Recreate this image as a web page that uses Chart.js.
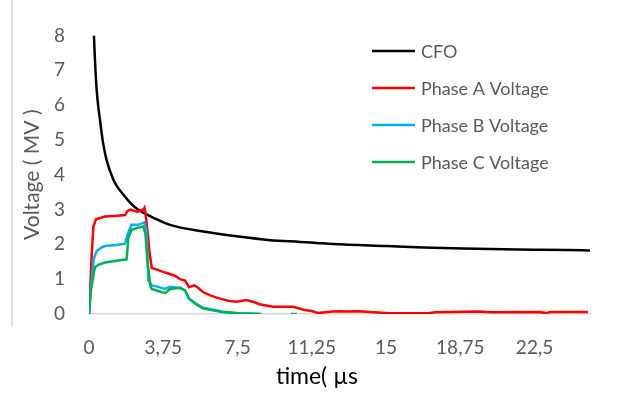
<!DOCTYPE html>
<html>
<head>
<meta charset="utf-8">
<script src="https://cdn.jsdelivr.net/npm/chart.js@4/dist/chart.umd.min.js"></script>
<style>
  html, body { margin: 0; padding: 0; background: #ffffff; }
  #wrap { width: 623px; height: 407px; position: relative; }
</style>
</head>
<body>
<div id="wrap"><canvas id="chart"></canvas></div>
<script>
// Axis ticks
const timeTicks = [0, 3.75, 7.5, 11.25, 15, 18.75, 22.5];
const voltTicks = [0, 1, 2, 3, 4, 5, 6, 7, 8];

// Critical flashover voltage curve (time in µs, voltage in MV)
const cfoTime = [0.25, 0.30, 0.35, 0.40, 0.45, 0.56, 0.70, 0.89, 1.20, 1.40, 1.80, 2.07, 2.42, 2.83, 3.23, 4.09, 5.77, 7.46, 9.14, 10.66, 11.5, 12.34, 15.03, 16.88, 18.9, 21.6, 24.96, 25.3];
const cfoVolt = [8.0, 7.3, 6.75, 6.35, 6.05, 5.55, 4.95, 4.42, 3.9, 3.68, 3.38, 3.2, 3.02, 2.88, 2.77, 2.56, 2.37, 2.23, 2.12, 2.07, 2.04, 2.01, 1.95, 1.91, 1.88, 1.85, 1.83, 1.82];

// Phase A
const phaseATime = [0.0, 0.12, 0.22, 0.35, 0.8, 1.4, 1.82, 1.95, 2.1, 2.3, 2.45, 2.6, 2.75, 2.8, 2.85, 2.95, 3.05, 3.17, 3.4, 3.84, 4.34, 4.6, 4.85, 5.05, 5.3, 5.45, 5.75, 6.1, 6.45, 7.1, 7.45, 7.95, 8.4, 8.6, 9.3, 10.3, 10.85, 11.3, 11.55, 12.3, 12.7, 13.0, 13.6, 14.6, 15.2, 17.2, 17.5, 19.7, 20.3, 22.8, 23.1, 23.3, 25.2];
const phaseAVolt = [0.0, 1.5, 2.5, 2.72, 2.8, 2.82, 2.84, 2.96, 3.0, 2.96, 2.93, 2.98, 3.0, 3.05, 2.9, 2.4, 1.8, 1.32, 1.28, 1.19, 1.1, 1.0, 0.96, 0.77, 0.82, 0.78, 0.63, 0.54, 0.47, 0.37, 0.35, 0.4, 0.33, 0.28, 0.21, 0.21, 0.12, 0.08, 0.03, 0.07, 0.08, 0.07, 0.08, 0.04, 0.02, 0.03, 0.05, 0.07, 0.05, 0.06, 0.02, 0.06, 0.06];

// Phase B
const phaseBTime = [0.0, 0.1, 0.25, 0.39, 0.6, 0.8, 1.4, 1.82, 1.95, 2.15, 2.49, 2.8, 2.9, 3.0, 3.17, 3.5, 3.84, 4.1, 4.6, 4.85, 5.05, 5.4, 5.75, 6.7, 7.5, 8.6];
const phaseBVolt = [0.0, 0.8, 1.6, 1.81, 1.9, 1.95, 1.98, 2.02, 2.29, 2.56, 2.56, 2.63, 2.4, 0.96, 0.82, 0.78, 0.72, 0.78, 0.75, 0.68, 0.44, 0.3, 0.18, 0.07, 0.02, 0.0];

// Phase C
const phaseCTime = [0.0, 0.1, 0.3, 0.5, 0.8, 1.4, 1.9, 1.99, 2.15, 2.5, 2.74, 2.85, 2.95, 3.1, 3.17, 3.5, 3.84, 4.1, 4.6, 4.85, 5.05, 5.4, 5.75, 6.7, 7.5, 8.7, 9.5, 10.2, 10.5];
const phaseCVolt = [0.0, 0.7, 1.34, 1.42, 1.48, 1.53, 1.57, 2.19, 2.42, 2.48, 2.51, 2.3, 1.5, 0.8, 0.72, 0.66, 0.6, 0.72, 0.75, 0.68, 0.44, 0.28, 0.16, 0.06, 0.02, 0.0, null, 0.0, 0.0];

const seriesLabels = ['CFO', 'Phase A Voltage', 'Phase B Voltage', 'Phase C Voltage'];
const seriesColors = ['#000000', '#ff0000', '#00b0f0', '#00b050'];

const toPoints = (xs, ys) => xs.map((x, i) => ({ x: x, y: ys[i] }));
const comma = v => String(v).replace('.', ',');
const FONT = 'Lato, "Open Sans", sans-serif';

// Legend drawn inside the plot area, one row per series
const legendPlugin = {
  id: 'insideLegend',
  afterDraw(chart) {
    const ctx = chart.ctx;
    ctx.save();
    chart.data.datasets.forEach((ds, i) => {
      const y = 51 + i * 37;
      ctx.strokeStyle = ds.borderColor;
      ctx.lineWidth = 2.5;
      ctx.beginPath();
      ctx.moveTo(372, y);
      ctx.lineTo(415, y);
      ctx.stroke();
      ctx.fillStyle = '#595959';
      ctx.font = '18px ' + FONT;
      ctx.textBaseline = 'middle';
      ctx.textAlign = 'left';
      ctx.fillText(ds.label, 421, y + 1);
    });
    ctx.restore();
  }
};

// Frame edge on the left and the time-axis title
const framePlugin = {
  id: 'frame',
  beforeDraw(chart) {
    const ctx = chart.ctx;
    ctx.save();
    ctx.fillStyle = '#ffffff';
    ctx.fillRect(0, 0, chart.width, chart.height);
    ctx.strokeStyle = '#d9d9d9';
    ctx.lineWidth = 1.5;
    ctx.beginPath();
    ctx.moveTo(12, 0);
    ctx.lineTo(12, 327);
    ctx.stroke();
    ctx.restore();
  },
  afterDraw(chart) {
    const ctx = chart.ctx;
    const area = chart.chartArea;
    ctx.save();
    ctx.fillStyle = '#000000';
    ctx.font = '23px ' + FONT;
    ctx.textAlign = 'center';
    ctx.textBaseline = 'middle';
    ctx.fillText('time( µs', area.left + (area.right - area.left) * 0.455, 377);
    ctx.restore();
  }
};

new Chart(document.getElementById('chart'), {
  type: 'line',
  data: {
    datasets: [
      { label: seriesLabels[0], data: toPoints(cfoTime, cfoVolt), borderColor: seriesColors[0], order: 3, cubicInterpolationMode: 'monotone' },
      { label: seriesLabels[1], data: toPoints(phaseATime, phaseAVolt), borderColor: seriesColors[1], order: 2 },
      { label: seriesLabels[2], data: toPoints(phaseBTime, phaseBVolt), borderColor: seriesColors[2], order: 1 },
      { label: seriesLabels[3], data: toPoints(phaseCTime, phaseCVolt), borderColor: seriesColors[3], order: 0 }
    ].map(ds => Object.assign({
      borderWidth: 2.5,
      pointRadius: 0,
      tension: 0,
      fill: false,
      spanGaps: false
    }, ds))
  },
  options: {
    responsive: true,
    maintainAspectRatio: false,
    animation: false,
    layout: { padding: { top: 31, right: 33, left: 0, bottom: 0 } },
    plugins: {
      legend: { display: false },
      tooltip: { enabled: false }
    },
    scales: {
      x: {
        type: 'linear',
        min: 0,
        max: 25.3,
        afterBuildTicks: axis => { axis.ticks = timeTicks.map(v => ({ value: v })); },
        afterFit: axis => { axis.height = 93; },
        grid: { display: false, drawTicks: false },
        border: { display: true, color: '#d9d9d9', width: 1.5 },
        ticks: {
          color: '#595959',
          font: { family: FONT, size: 19 },
          padding: 22,
          maxRotation: 0,
          autoSkip: false,
          callback: v => comma(v)
        }
      },
      y: {
        min: 0,
        max: 8,
        afterBuildTicks: axis => { axis.ticks = voltTicks.map(v => ({ value: v })); },
        afterFit: axis => { axis.width = 89; },
        grid: { display: false, drawTicks: false },
        border: { display: false },
        ticks: {
          color: '#595959',
          font: { family: FONT, size: 19 },
          padding: 24,
          callback: v => comma(v)
        },
        title: {
          display: true,
          text: 'Voltage ( MV )',
          color: '#595959',
          font: { family: FONT, size: 21 },
          padding: { top: 20, bottom: 0 }
        }
      }
    }
  },
  plugins: [framePlugin, legendPlugin]
});
</script>
</body>
</html>
